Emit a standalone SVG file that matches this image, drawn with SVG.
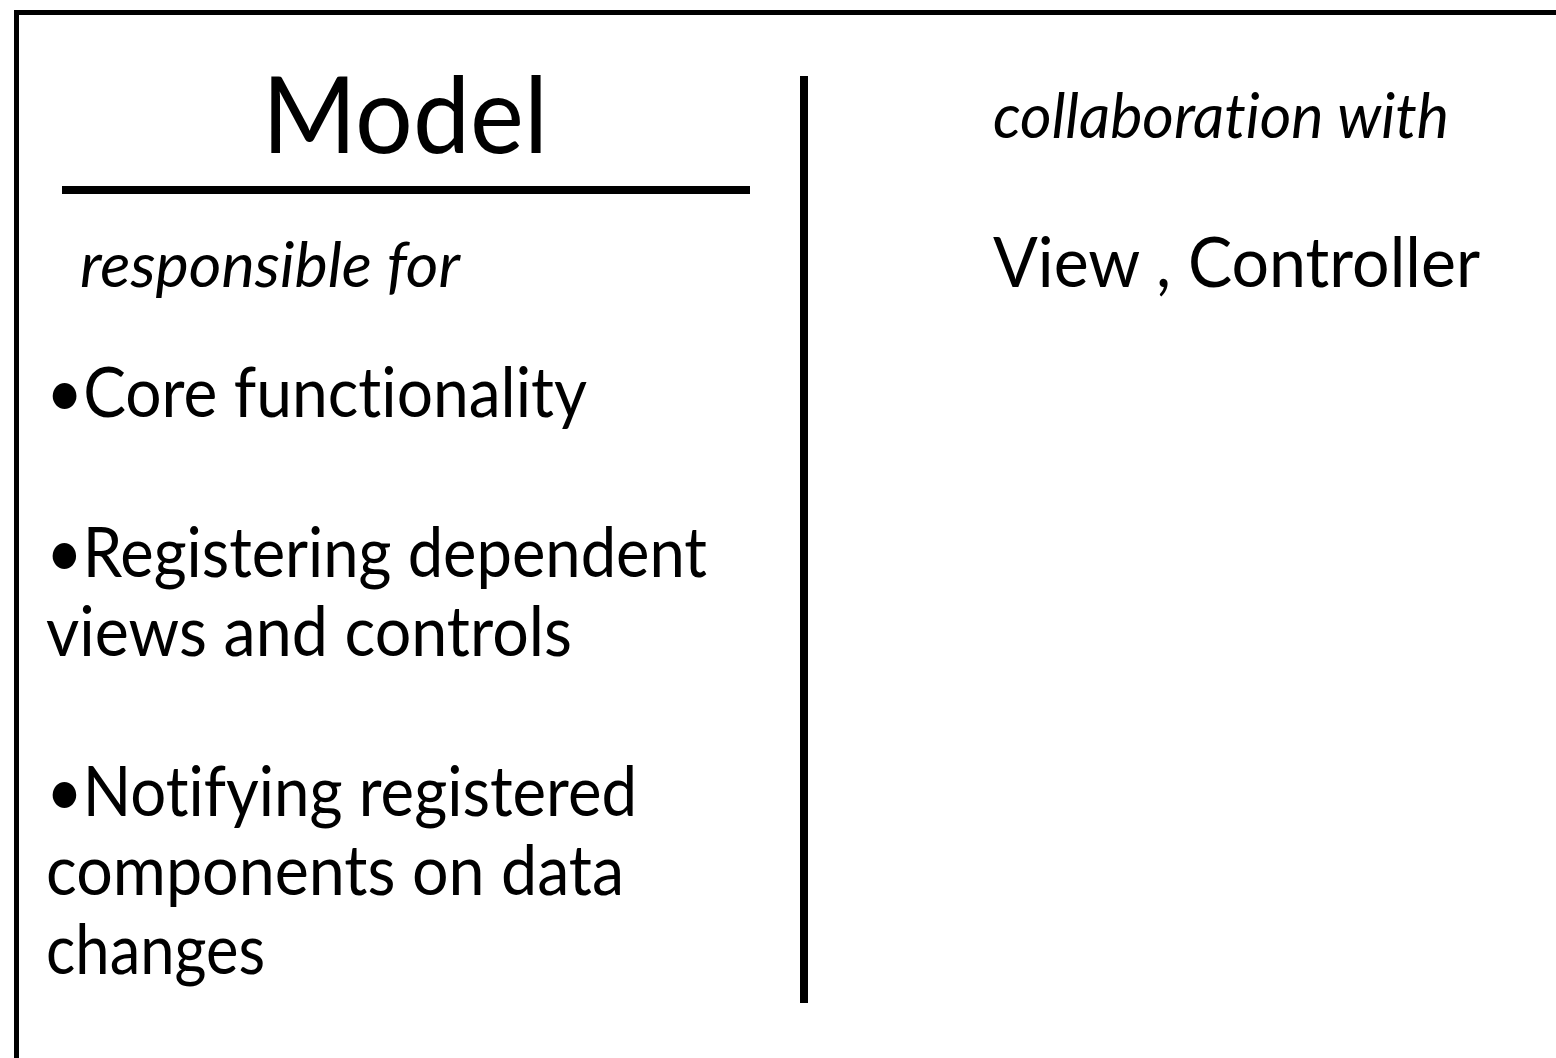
<svg xmlns="http://www.w3.org/2000/svg" width="1556" height="1058" viewBox="0 0 1556 1058">
<style>
.t{font-family:Lato,"Open Sans","Liberation Sans",sans-serif;fill:#000;font-variant-ligatures:none;font-feature-settings:"liga" 0,"clig" 0}
.b{font-size:69px}
.i{font-size:63px;font-style:italic}
.ln{stroke:#000;fill:none}
</style>
<rect width="1556" height="1058" fill="#fff"/>
<g id="card">
<rect class="ln" x="16.5" y="12.5" width="1600" height="1100" stroke-width="5"/>
<line class="ln" x1="62" y1="190" x2="750" y2="190" stroke-width="8"/>
<line class="ln" x1="804" y1="76" x2="804" y2="1003" stroke-width="8"/>
</g>
<g id="title">
<text class="t" x="262" y="153" font-size="106" textLength="286" lengthAdjust="spacingAndGlyphs">Model</text>
</g>
<g id="responsibilities">
<text class="t i" x="80" y="287" textLength="380" lengthAdjust="spacingAndGlyphs">responsible for</text>
<text class="t b" x="46" y="417" textLength="541" lengthAdjust="spacingAndGlyphs">•Core functionality</text>
<text class="t b" x="46" y="577" textLength="661" lengthAdjust="spacingAndGlyphs">•Registering dependent</text>
<text class="t b" x="46" y="656" textLength="526" lengthAdjust="spacingAndGlyphs">views and controls</text>
<text class="t b" x="46" y="816" textLength="591" lengthAdjust="spacingAndGlyphs">•Notifying registered</text>
<text class="t b" x="46" y="895" textLength="578" lengthAdjust="spacingAndGlyphs">components on data</text>
<text class="t b" x="46" y="974" textLength="219" lengthAdjust="spacingAndGlyphs">changes</text>
</g>
<g id="collaborators">
<text class="t i" x="993" y="138" textLength="456" lengthAdjust="spacingAndGlyphs">collaboration with</text>
<text class="t b" x="993" y="287" textLength="487" lengthAdjust="spacingAndGlyphs">View , Controller</text>
</g>
</svg>
